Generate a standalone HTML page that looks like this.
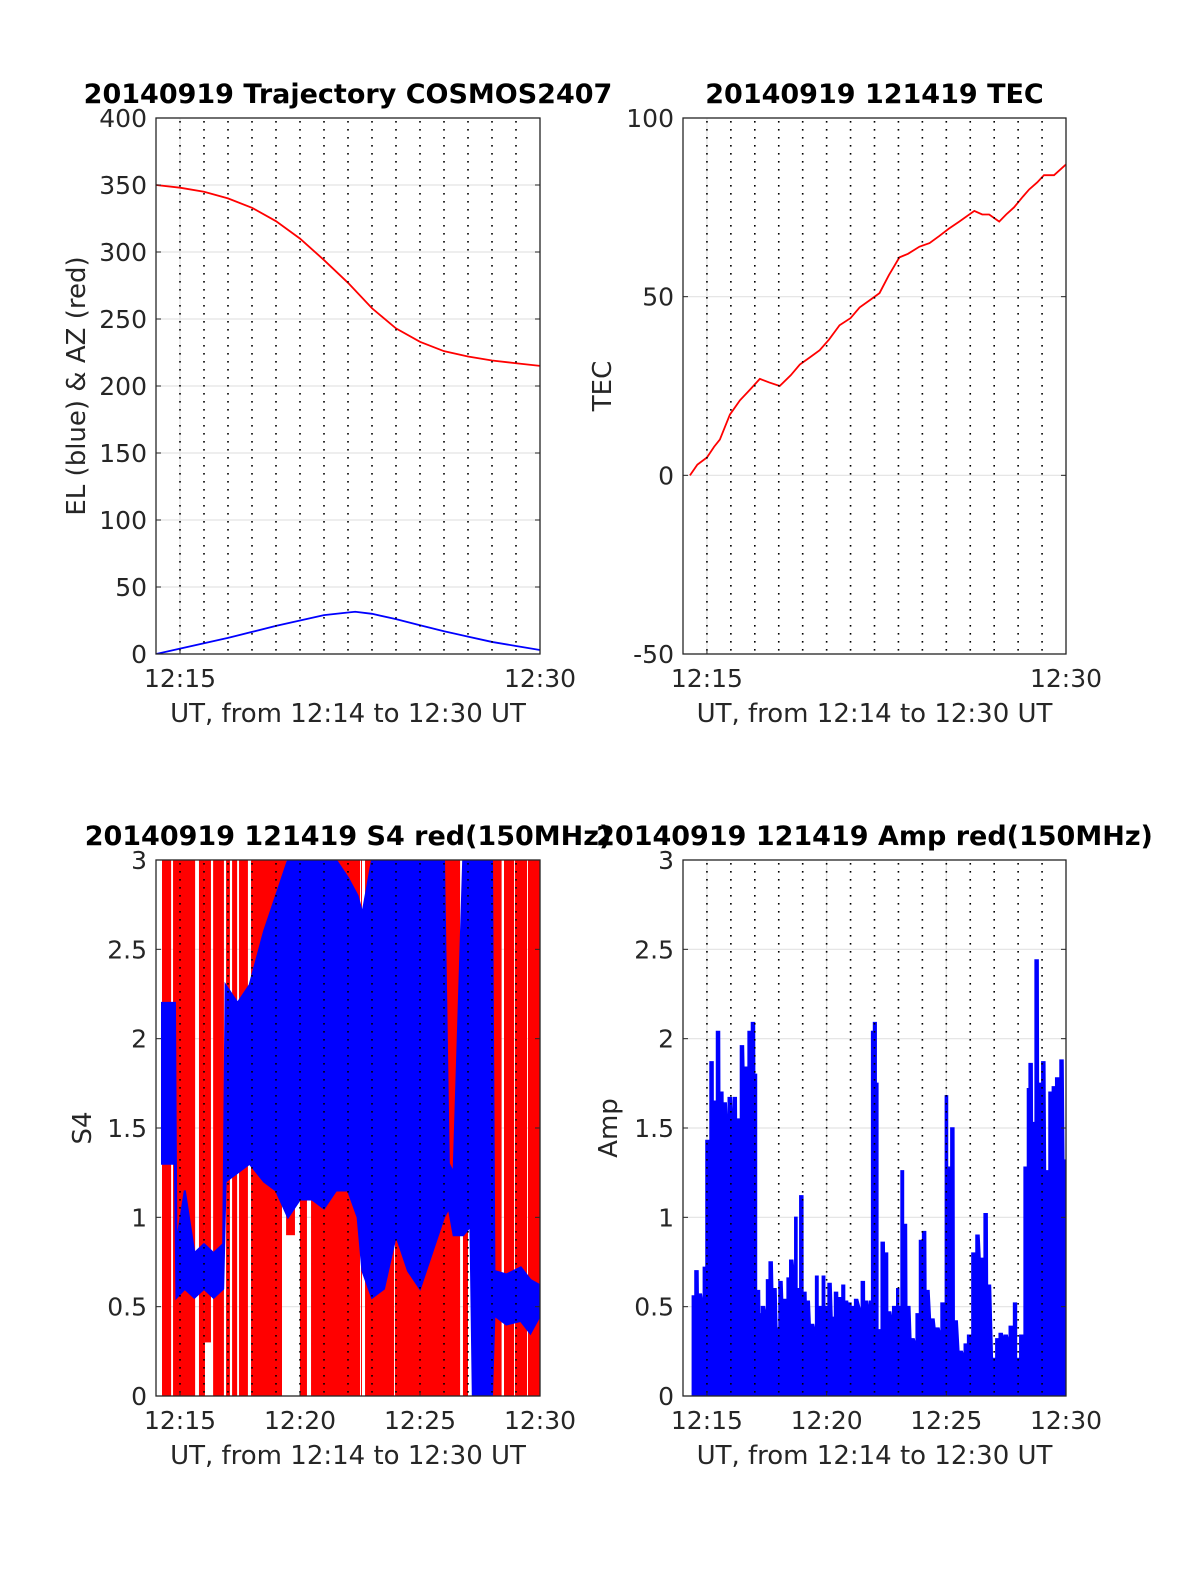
<!DOCTYPE html>
<html><head><meta charset="utf-8"><style>
html,body{margin:0;padding:0;background:#fff;}
svg{display:block;font-family:"DejaVu Sans","Liberation Sans",sans-serif;}
</style></head><body>
<svg id="fig" width="1200" height="1575" viewBox="0 0 1200 1575" xmlns="http://www.w3.org/2000/svg"></svg>
<script>
// ---- data ----
const azT=[14,15,16,17,18,19,20,21,22,23,24,25,26,27,28,29,30];
const azV=[350,348,345,340,333,323,310,294,277,258,243,233,226,222,219,217,215];
const elT=[14,15,16,17,18,19,20,21,22,22.3,23,24,25,26,27,28,29,30];
const elV=[0,4,8,12,16.5,21,25,29,31,31.5,30,26,21.5,17,13,9,6,3];
const tecT=[14.29,14.6,15,15.3,15.54,15.96,16.38,16.8,17.21,17.6,18.04,18.5,18.88,19.3,19.71,20.1,20.54,21.0,21.38,21.8,22.21,22.6,23.04,23.4,23.88,24.3,24.71,25.1,25.54,26.17,26.5,26.79,27.21,27.5,27.83,28.2,28.46,28.8,29.08,29.5,30];
const tecV=[0,3,5,8,10,17,21,24,27,26,25,28,31,33,35,38,42,44,47,49,51,56,61,62,64,65,67,69,71,74,73,73,71,73,75,78,80,82,84,84,87];
const s4RedStart=[14.25,14.71,15.79,16.04,16.38,16.92,17.17,17.46,17.96,18.46,19.04,19.42,20.0,20.46,22.54,22.71,23.96,24.67,26.21,26.79,27.54];
const s4RedEnd=[14.63,15.63,16.04,16.29,16.83,17.08,17.38,17.83,18.5,19.25,19.42,19.79,20.29,22.5,22.58,23.92,25.67,26.42,26.67,27.0,28.0];
const s4RedLo=[0,0,0,0.3,0,0,0,0,0,0,1.2,0.9,0,0,0,0,0,0,0,0,0];
const s4RedStart2=[27.54,28.0,28.5,28.96,29.5];
const s4RedEnd2=[27.96,28.4,28.92,29.46,30];
const s4BlueT=[14.25,14.79,14.85,15.2,15.6,16.0,16.4,16.8,16.9,17.4,17.9,18.5,19.0,19.5,20.0,20.5,21.0,21.5,22.0,22.4,22.6,23.0,23.5,24.0,24.5,25.0,25.5,26.0,26.2,26.4,26.8,27.1,27.2,28.0,28.1,28.6,29.2,29.6,30];
const s4BlueLo=[1.3,1.3,0.55,0.6,0.55,0.6,0.55,0.6,1.2,1.25,1.3,1.2,1.15,1.0,1.1,1.1,1.05,1.15,1.15,1.0,0.7,0.55,0.6,0.9,0.7,0.6,0.8,1.0,1.05,0.9,0.9,0.95,0,0,0.45,0.4,0.42,0.35,0.45];
const s4BlueHi=[2.2,2.2,0.85,1.15,0.8,0.85,0.8,0.85,2.3,2.2,2.3,2.6,2.8,3,3,3,3,3,2.9,2.8,2.7,3,3,3,3,3,3,3,1.3,1.25,3,3,3,3,0.7,0.68,0.72,0.65,0.62];
const ampT=[14.39,14.50,14.64,14.85,14.96,15.13,15.26,15.40,15.54,15.68,15.89,16.10,16.24,16.40,16.58,16.72,16.86,17.00,17.07,17.21,17.28,17.49,17.60,17.76,17.93,18.01,18.18,18.35,18.46,18.67,18.76,18.88,19.01,19.15,19.33,19.54,19.64,19.82,19.92,20.06,20.24,20.33,20.47,20.64,20.75,20.89,21.03,21.17,21.45,21.58,21.79,21.88,21.96,22.07,22.14,22.28,22.42,22.55,22.76,22.93,23.01,23.11,23.21,23.35,23.53,23.74,23.88,24.01,24.15,24.36,24.57,24.78,24.96,25.05,25.19,25.33,25.54,25.75,25.89,26.07,26.24,26.45,26.58,26.72,26.93,27.07,27.21,27.42,27.63,27.81,27.93,28.07,28.25,28.39,28.46,28.60,28.71,28.85,28.99,29.15,29.29,29.43,29.57,29.75,29.92];
const ampV=[0.56,0.70,0.57,0.72,1.43,1.87,1.65,2.04,1.70,1.64,1.67,1.67,1.55,1.96,1.84,2.04,2.09,1.80,0.59,0.46,0.50,0.65,0.75,0.60,0.38,0.64,0.54,0.66,0.76,1.00,0.60,1.12,0.58,0.53,0.40,0.67,0.50,0.67,0.50,0.63,0.44,0.58,0.55,0.62,0.53,0.52,0.50,0.54,0.64,0.53,0.53,2.04,2.09,1.75,0.37,0.86,0.80,0.47,0.50,0.60,0.50,1.26,0.96,0.50,0.32,0.46,0.87,0.92,0.59,0.43,0.38,0.52,1.68,1.28,1.50,0.42,0.25,0.29,0.34,0.80,0.90,0.77,1.02,0.62,0.21,0.32,0.35,0.34,0.39,0.52,0.21,0.34,1.28,1.72,1.86,1.53,2.44,1.75,1.87,1.26,1.70,1.73,1.78,1.88,1.32];
const xTicksTop=[15,30];
const xTickLabelsTop=["12:15","12:30"];
const xTicksBot=[15,20,25,30];
const xTickLabelsBot=["12:15","12:20","12:25","12:30"];
const yTicksTL=[0,50,100,150,200,250,300,350,400];
const yTicksTR=[-50,0,50,100];
const yTicksB=[0,0.5,1,1.5,2,2.5,3];
const yTickLabelsB=["0","0.5","1","1.5","2","2.5","3"];

const NS="http://www.w3.org/2000/svg";
const fig=document.getElementById('fig');
function mk(tag,attrs,parent){const e=document.createElementNS(NS,tag);for(const k in attrs)e.setAttribute(k,attrs[k]);(parent||fig).appendChild(e);return e;}

function axes(name,x0,y0,x1,y1,ymin,ymax,yticks,ylabels,xticks,xlabels,title,ylab,ylabX){
  const g=mk('g',{});
  
  
  const sx=t=>x0+(t-14)/16*(x1-x0);
  const sy=v=>y1-(v-ymin)/(ymax-ymin)*(y1-y0);
  const clipId=name+'-clip';
  const cp=mk('clipPath',{id:clipId},g);mk('rect',{x:x0,y:y0,width:x1-x0,height:y1-y0},cp);
  const grid=mk('g',{},g);
  
  
  yticks.forEach(v=>{mk('line',{x1:x0,x2:x1,y1:sy(v),y2:sy(v),stroke:'#e3e3e3','stroke-width':1.2},grid);});
  xticks.forEach(t=>{mk('line',{x1:sx(t),x2:sx(t),y1:y0,y2:y1,stroke:'#e3e3e3','stroke-width':1.2},grid);});
  const plot=mk('g',{'clip-path':'url(#'+clipId+')'},g);
  
  
  const dots=mk('g',{},g);
  for(let m=15;m<30;m++){mk('line',{x1:sx(m),x2:sx(m),y1:y0+3,y2:y1,stroke:'#000','stroke-width':1.6,'stroke-dasharray':'1.6 6.4'},dots);}
  mk('rect',{x:x0,y:y0,width:x1-x0,height:y1-y0,fill:'none',stroke:'#262626','stroke-width':1.3},g);
  yticks.forEach((v,i)=>{
    mk('line',{x1:x0,x2:x0+5,y1:sy(v),y2:sy(v),stroke:'#262626'},g);
    mk('line',{x1:x1-5,x2:x1,y1:sy(v),y2:sy(v),stroke:'#262626'},g);
    const t=mk('text',{x:x0-9,y:sy(v)+9,'text-anchor':'end','font-size':25,fill:'#262626'},g);t.textContent=ylabels[i];
    
    
  });
  xticks.forEach((v,i)=>{
    mk('line',{x1:sx(v),x2:sx(v),y1:y1-5,y2:y1,stroke:'#262626'},g);
    const t=mk('text',{x:sx(v),y:y1+33,'text-anchor':'middle','font-size':25,fill:'#262626'},g);t.textContent=xlabels[i];
    
    
  });
  const xt=mk('text',{x:(x0+x1)/2,y:y1+68,'text-anchor':'middle','font-size':26,fill:'#262626'},g);xt.textContent='UT, from 12:14 to 12:30 UT';
  
  
  const yc=(y0+y1)/2;
  const yt=mk('text',{x:ylabX,y:yc,'text-anchor':'middle','font-size':26,fill:'#262626',transform:'rotate(-90 '+ylabX+' '+yc+')'},g);yt.textContent=ylab;
  
  
  const tt=mk('text',{x:(x0+x1)/2,y:y0-15,'text-anchor':'middle','font-size':27,'font-weight':'bold',fill:'#000'},g);tt.textContent=title;
  
  
  return {sx,sy,plot};
}
function line(ax,T,V,color,name){
  const p=mk('polyline',{points:T.map((t,i)=>ax.sx(t)+','+ax.sy(V[i])).join(' '),fill:'none',stroke:color,'stroke-width':1.8},ax.plot);
  
  
}
const a1=axes('trajectory-chart',156,118,540,654,0,400,yTicksTL,yTicksTL.map(String),xTicksTop,xTickLabelsTop,'20140919 Trajectory COSMOS2407','EL (blue) & AZ (red)',85);
line(a1,azT,azV,'#ff0000','az-line');
line(a1,elT,elV,'#0000ff','el-line');
const a2=axes('tec-chart',683,118,1066,654,-50,100,yTicksTR,yTicksTR.map(String),xTicksTop,xTickLabelsTop,'20140919 121419 TEC','TEC',611);
line(a2,tecT,tecV,'#ff0000','tec-line');
const a3=axes('s4-chart',156,860,540,1396,0,3,yTicksB,yTickLabelsB,xTicksBot,xTickLabelsBot,'20140919 121419 S4 red(150MHz)','S4',91);
const rs=s4RedStart.concat(s4RedStart2), re=s4RedEnd.concat(s4RedEnd2), rl=s4RedLo.concat(s4RedStart2.map(()=>0));
rs.forEach((s,i)=>{
  const r=mk('rect',{x:a3.sx(s),y:a3.sy(3),width:Math.max(1,a3.sx(re[i])-a3.sx(s)),height:a3.sy(rl[i])-a3.sy(3),fill:'#ff0000'},a3.plot);
  
  
});
{
  const pts=s4BlueT.map((t,i)=>a3.sx(t)+','+a3.sy(s4BlueHi[i])).concat(s4BlueT.map((t,i)=>a3.sx(t)+','+a3.sy(s4BlueLo[i])).reverse());
  const p=mk('polygon',{points:pts.join(' '),fill:'#0000ff',stroke:'#0000ff','stroke-width':2},a3.plot);
  
  
}
const a4=axes('amp-chart',683,860,1066,1396,0,3,yTicksB,yTickLabelsB,xTicksBot,xTickLabelsBot,'20140919 121419 Amp red(150MHz)','Amp',617);
{
  let pts=[a4.sx(ampT[0])+','+a4.sy(0)];
  ampT.forEach((t,i)=>{const tn=i<ampT.length-1?ampT[i+1]:30;pts.push(a4.sx(t)+','+a4.sy(ampV[i]));pts.push((a4.sx(t)+Math.min(3,a4.sx(tn)-a4.sx(t)))+','+a4.sy(ampV[i]));pts.push(a4.sx(tn)+','+a4.sy(Math.min(ampV[i],i<ampT.length-1?ampV[i+1]:ampV[i])*0.85));});
  pts.push(a4.sx(30)+','+a4.sy(0));
  const p=mk('polygon',{points:pts.join(' '),fill:'#0000ff',stroke:'#0000ff','stroke-width':1.5},a4.plot);
  
  
}
</script>
</body></html>
